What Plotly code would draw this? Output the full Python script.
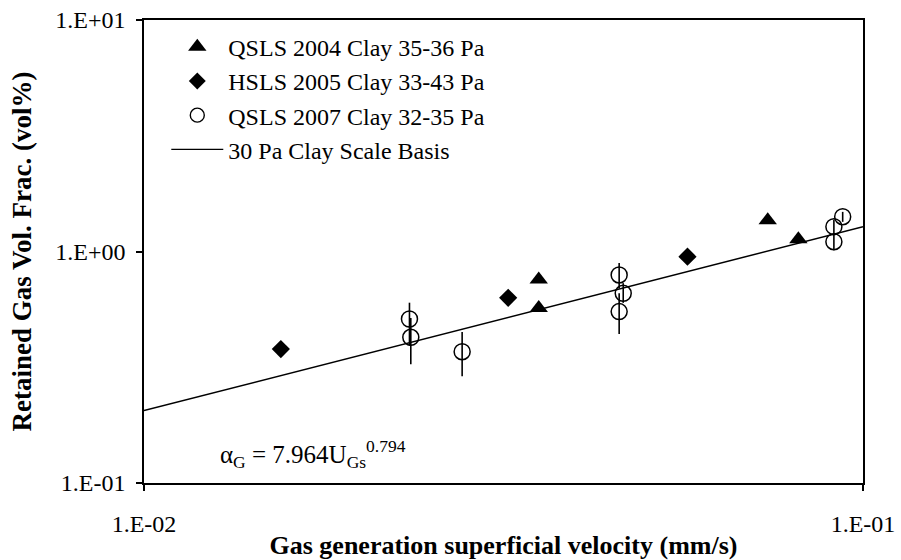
import plotly.graph_objects as go

# QSLS 2004 Clay 35-36 Pa
tri_x = [0.0354, 0.0354, 0.0737, 0.0813]
tri_y = [0.756, 0.570, 1.364, 1.129]
# HSLS 2005 Clay 33-43 Pa
dia_x = [0.0155, 0.0321, 0.0570]
dia_y = [0.379, 0.631, 0.950]
# QSLS 2007 Clay 32-35 Pa
circ_x = [0.0234, 0.0235, 0.0277, 0.0458, 0.0464, 0.0458, 0.0911, 0.0911, 0.0937]
circ_y = [0.511, 0.426, 0.369, 0.792, 0.660, 0.550, 1.102, 1.280, 1.413]
circ_err_plus = [0.09, 0.09, 0.08, 0.10, 0.07, 0.11, 0.09, 0.09, 0.07]
circ_err_minus = [0.12, 0.10, 0.08, 0.10, 0.06, 0.11, 0.09, 0.09, 0.07]
# 30 Pa Clay Scale Basis (alpha = 7.964 U^0.794)
fit_x = [0.01, 0.1]
fit_y = [0.2056, 1.280]

x_ticks = [0.01, 0.1]
x_ticktext = ["1.E-02", "1.E-01"]
y_ticks = [0.1, 1, 10]
y_ticktext = ["1.E-01", "1.E+00", "1.E+01"]

names = ["QSLS 2004 Clay 35-36 Pa", "HSLS 2005 Clay 33-43 Pa",
         "QSLS 2007 Clay 32-35 Pa", "30 Pa Clay Scale Basis"]

FONT = "Liberation Serif, Times New Roman, serif"

fig = go.Figure()

fig.add_trace(go.Scatter(x=fit_x, y=fit_y, mode="lines",
                         line=dict(color="black", width=1.5),
                         showlegend=False, hoverinfo="skip"))
fig.add_trace(go.Scatter(x=circ_x, y=circ_y, mode="markers",
                         marker=dict(symbol="circle-open", size=16, color="black",
                                     line=dict(width=1.5, color="black")),
                         error_y=dict(type="data", array=circ_err_plus,
                                      arrayminus=circ_err_minus, symmetric=False,
                                      color="black", thickness=1.6, width=0),
                         showlegend=False))
fig.add_trace(go.Scatter(x=tri_x, y=tri_y, mode="markers",
                         marker=dict(symbol="triangle-up", size=16, color="black"),
                         showlegend=False))
fig.add_trace(go.Scatter(x=dia_x, y=dia_y, mode="markers",
                         marker=dict(symbol="diamond", size=14, color="black"),
                         showlegend=False))

# legend entries
fig.add_trace(go.Scatter(x=[None], y=[None], mode="markers", name=names[0],
                         marker=dict(symbol="triangle-up", size=16, color="black"),
                         legendgroup="a"))
fig.add_trace(go.Scatter(x=[None], y=[None], mode="markers", name=names[1],
                         marker=dict(symbol="diamond", size=13, color="black"),
                         legendgroup="b"))
fig.add_trace(go.Scatter(x=[None], y=[None], mode="markers", name=names[2],
                         marker=dict(symbol="circle-open", size=14, color="black",
                                     line=dict(width=1.4, color="black")),
                         legendgroup="c"))
fig.add_trace(go.Scatter(x=[None], y=[None], mode="lines", name=names[3],
                         line=dict(color="black", width=1.4),
                         legendgroup="d"))

fig.add_annotation(xref="paper", yref="paper", x=0.103, y=0.02,
                   xanchor="left", yanchor="bottom", showarrow=False,
                   text="α<sub>G</sub> = 7.964U<sub>Gs</sub><sup>0.794</sup>",
                   font=dict(family=FONT, size=25, color="black"))

axis_common = dict(type="log", showline=True, linecolor="black", linewidth=1.5,
                   mirror=True, ticks="outside", ticklen=6, tickwidth=1.5,
                   tickcolor="black", showgrid=False, zeroline=False,
                   automargin=False,
                   tickfont=dict(family=FONT, size=24, color="black"))

fig.update_xaxes(range=[-2, -1], tickvals=x_ticks, ticktext=x_ticktext,
                 ticklabelstandoff=12,
                 title=dict(text="<b>Gas generation superficial velocity (mm/s)</b>",
                            font=dict(family=FONT, size=26, color="black"),
                            standoff=0),
                 **axis_common)
fig.update_yaxes(range=[-1, 1], tickvals=y_ticks, ticktext=y_ticktext,
                 ticklabelstandoff=6,
                 title=dict(text="<b>Retained Gas Vol. Frac. (vol%)</b>",
                            font=dict(family=FONT, size=27, color="black"),
                            standoff=16),
                 **axis_common)

fig.update_layout(
    width=901, height=560,
    margin=dict(l=144, r=38, t=20, b=77),
    plot_bgcolor="white", paper_bgcolor="white",
    font=dict(family=FONT, color="black"),
    legend=dict(x=0.031, y=0.99, xanchor="left", yanchor="top",
                bgcolor="rgba(0,0,0,0)", borderwidth=0,
                font=dict(family=FONT, size=24, color="black"),
                itemwidth=52, tracegroupgap=5, traceorder="normal"),
)

fig.write_html("out.html")
